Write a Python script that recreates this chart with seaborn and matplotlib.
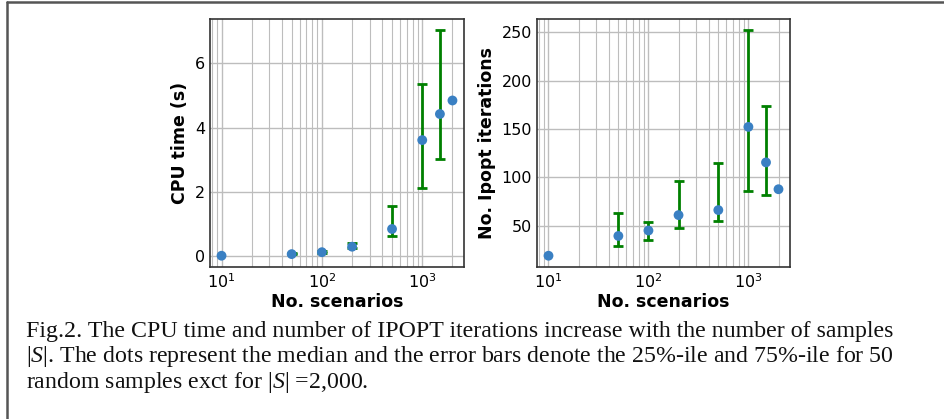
import numpy as np
import matplotlib
matplotlib.use("Agg")
import matplotlib.pyplot as plt
import seaborn as sns
from matplotlib.lines import Line2D

# data
scenarios = [10, 50, 100, 200, 500, 1000, 1500, 2000]

cpu_median = [0.02, 0.07, 0.13, 0.30, 0.85, 3.61, 4.42, 4.84]
cpu_q25 = [np.nan, 0.06, 0.11, 0.26, 0.62, 2.11, 3.02, np.nan]
cpu_q75 = [np.nan, 0.09, 0.16, 0.43, 1.57, 5.35, 7.02, np.nan]

iter_median = [18.7, 39.2, 44.8, 60.8, 66.0, 152.2, 115.4, 87.6]
iter_q25 = [np.nan, 28.8, 35.1, 47.9, 54.9, 85.8, 81.3, np.nan]
iter_q75 = [np.nan, 62.9, 53.8, 96.2, 114.7, 252.3, 174.2, np.nan]

caption = ("Fig.2. The CPU time and number of IPOPT iterations increase with the number of samples\n"
           "|$S$|. The dots represent the median and the error bars denote the 25%-ile and 75%-ile for 50\n"
           "random samples exct for |$S$| =2,000.")

sns.set_style("white")
plt.rcParams['font.family'] = ['DejaVu Sans']
plt.rcParams['mathtext.fontset'] = 'custom'
plt.rcParams['mathtext.it'] = 'Liberation Serif:italic'
plt.rcParams['mathtext.rm'] = 'Liberation Serif'
for k in ['text.color', 'axes.labelcolor', 'xtick.color', 'ytick.color']:
    plt.rcParams[k] = 'black'

fig = plt.figure(figsize=(9.45, 4.19), dpi=100)
ax1 = fig.add_axes([210/945, 1-267/419, 254/945, 248/419])
ax2 = fig.add_axes([537/945, 1-267/419, 253/945, 248/419])


def panel(ax, med, q25, q75, ylabel):
    x = np.array(scenarios, dtype=float)
    med = np.array(med)
    lo = np.array(q25)
    hi = np.array(q75)
    ok = ~np.isnan(lo)
    ax.errorbar(x[ok], med[ok], yerr=[med[ok] - lo[ok], hi[ok] - med[ok]],
                fmt='none', ecolor='green', elinewidth=2, capsize=3.5,
                capthick=2, zorder=2)
    sns.scatterplot(x=x, y=med, ax=ax, color='#3a80c3', s=50,
                    edgecolor='none', zorder=3)
    ax.set_xscale('log')
    ax.grid(True, which='major', color='#bdbdbd', linewidth=1)
    ax.grid(True, which='minor', axis='x', color='#bdbdbd', linewidth=0.8)
    ax.set_axisbelow(True)
    ax.tick_params(which='both', direction='in', labelsize=11.5,
                   color='#333333')
    ax.tick_params(which='major', length=4)
    ax.tick_params(which='minor', length=2)
    for s in ax.spines.values():
        s.set_color('#333333')
        s.set_linewidth(1.2)
    ax.set_xlabel('No. scenarios', fontsize=12.5, fontweight='bold', labelpad=2)
    ax.set_ylabel(ylabel, fontsize=12.5, fontweight='bold', labelpad=4)


panel(ax1, cpu_median, cpu_q25, cpu_q75, 'CPU time (s)')
ax1.set_yticks([0, 2, 4, 6])
panel(ax2, iter_median, iter_q25, iter_q75, 'No. Ipopt iterations')
ax2.set_yticks([50, 100, 150, 200, 250])

# frame around the figure
fig.add_artist(Line2D([7.5/945, 7.5/945], [0, 1-2/419], transform=fig.transFigure,
                      color='#555555', linewidth=1.8))
fig.add_artist(Line2D([7.5/945, 1], [1-2/419, 1-2/419], transform=fig.transFigure,
                      color='#555555', linewidth=1.8))

fig.text(26/945, 1-321/419, caption, fontsize=17.2, family='Liberation Serif',
         va='top', ha='left', linespacing=1.09, color='#111111')

fig.savefig('out.png', dpi=100)
